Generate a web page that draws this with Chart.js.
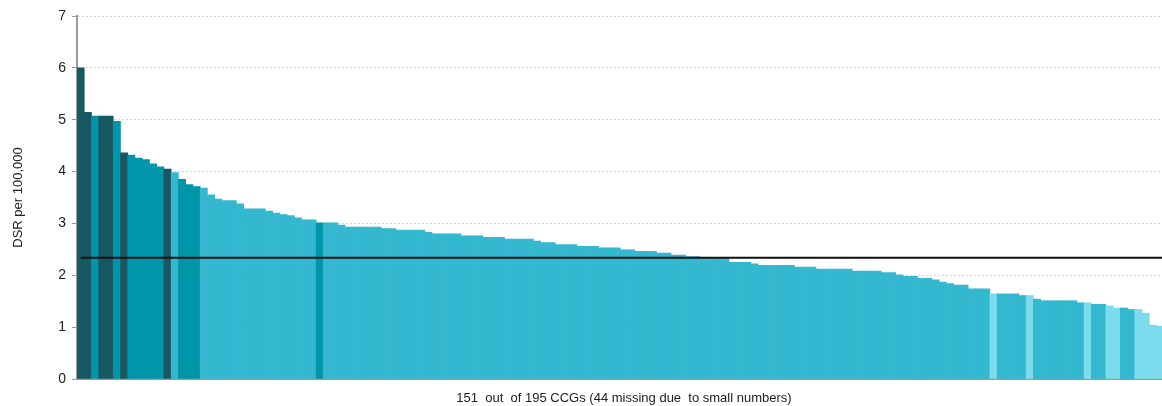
<!DOCTYPE html>
<html>
<head>
<meta charset="utf-8">
<title>DSR per 100,000 by CCG</title>
<script src="https://cdn.jsdelivr.net/npm/chart.js@4.4.1/dist/chart.umd.min.js"></script>
<style>
  html, body { margin: 0; padding: 0; background: #fff; overflow: hidden; }
  #wrap { width: 1171px; height: 406px; }
</style>
</head>
<body>
<div id="wrap"><canvas id="ccgChart" width="1171" height="406"></canvas></div>
<script>
// DSR per 100,000 for each CCG, sorted high to low
const dsrValues = [
  6.00, 5.14, 5.07, 5.07, 5.07, 4.97, 4.36, 4.32, 4.26, 4.23,
  4.15, 4.09, 4.05, 3.98, 3.85, 3.75, 3.71, 3.68, 3.55, 3.47,
  3.44, 3.44, 3.38, 3.28, 3.28, 3.28, 3.24, 3.20, 3.17, 3.15,
  3.11, 3.07, 3.07, 3.01, 3.01, 3.01, 2.97, 2.93, 2.93, 2.93,
  2.93, 2.93, 2.90, 2.90, 2.87, 2.87, 2.87, 2.87, 2.83, 2.80,
  2.80, 2.80, 2.80, 2.76, 2.76, 2.76, 2.73, 2.73, 2.73, 2.70,
  2.70, 2.70, 2.70, 2.66, 2.63, 2.63, 2.59, 2.59, 2.59, 2.56,
  2.56, 2.56, 2.53, 2.53, 2.53, 2.49, 2.49, 2.46, 2.46, 2.46,
  2.43, 2.43, 2.39, 2.39, 2.36, 2.36, 2.32, 2.32, 2.32, 2.32,
  2.25, 2.25, 2.25, 2.22, 2.19, 2.19, 2.19, 2.19, 2.19, 2.16,
  2.16, 2.16, 2.12, 2.12, 2.12, 2.12, 2.12, 2.08, 2.08, 2.08,
  2.08, 2.05, 2.05, 2.01, 1.98, 1.98, 1.94, 1.94, 1.91, 1.87,
  1.84, 1.81, 1.81, 1.74, 1.74, 1.74, 1.64, 1.64, 1.64, 1.64,
  1.61, 1.61, 1.54, 1.51, 1.51, 1.51, 1.51, 1.51, 1.47, 1.47,
  1.44, 1.44, 1.41, 1.37, 1.37, 1.34, 1.34, 1.27, 1.04, 1.02,
  1.00
];

// significance band of each CCG: D = dark, M = mid, L = light, V = very light
const dsrBands = [
  'D','D','M','D','D','M','D','M','M','M',
  'M','M','D','L','M','M','M','L','L','L',
  'L','L','L','L','L','L','L','L','L','L',
  'L','L','L','M','L','L','L','L','L','L',
  'L','L','L','L','L','L','L','L','L','L',
  'L','L','L','L','L','L','L','L','L','L',
  'L','L','L','L','L','L','L','L','L','L',
  'L','L','L','L','L','L','L','L','L','L',
  'L','L','L','L','L','L','L','L','L','L',
  'L','L','L','L','L','L','L','L','L','L',
  'L','L','L','L','L','L','L','L','L','L',
  'L','L','L','L','L','L','L','L','L','L',
  'L','L','L','L','L','L','V','L','L','L',
  'L','V','L','L','L','L','L','L','L','V',
  'L','L','V','V','L','L','V','V','V','V',
  'V'
];

const englandAverage = 2.34;
const yTitle = 'DSR per 100,000';
const xTitle = '151  out  of 195 CCGs (44 missing due  to small numbers)';

const bandColours = {
    D: '#175862',
    M: '#0095a8',
    L: '#33b8d0',
    V: '#7cdcee'
};

const ccgLabels = dsrValues.map((v, i) => 'CCG ' + (i + 1));
const axisFont = { family: 'Liberation Sans, Arial, sans-serif', size: 13 };

const ctx = document.getElementById('ccgChart').getContext('2d');
new Chart(ctx, {
    type: 'bar',
    data: {
        labels: ccgLabels,
        datasets: [
            {
                type: 'line',
                label: 'England',
                data: ccgLabels.map(() => englandAverage),
                borderColor: '#111111',
                borderWidth: 2,
                pointRadius: 0,
                fill: false,
                order: 0
            },
            {
                label: yTitle,
                data: dsrValues,
                backgroundColor: dsrBands.map(b => bandColours[b]),
                borderWidth: 0,
                barPercentage: 1,
                categoryPercentage: 1,
                order: 1
            }
        ]
    },
    options: {
        responsive: false,
        animation: false,
        layout: { padding: { top: 16, left: 0, right: 0, bottom: 0 } },
        plugins: {
            legend: { display: false },
            tooltip: { enabled: false }
        },
        scales: {
            x: {
                grid: { display: false, drawTicks: false },
                ticks: { display: false },
                border: { color: '#9a9a9a', width: 2 },
                title: {
                    display: true,
                    text: xTitle,
                    color: '#222',
                    font: axisFont,
                    padding: { top: 0, bottom: 0 }
                },
                afterFit: scale => { scale.height = 27; }
            },
            y: {
                min: 0,
                max: 7,
                ticks: { stepSize: 1, padding: 6, color: '#222', font: { family: axisFont.family, size: 14 } },
                grid: { color: '#d6d6d6', tickColor: '#9a9a9a', tickLength: 5, tickBorderDash: [] },
                border: { color: '#9a9a9a', width: 2, dash: [2, 2] },
                title: {
                    display: true,
                    text: yTitle,
                    color: '#222',
                    font: axisFont,
                    padding: { top: 11, bottom: 0 }
                },
                afterFit: scale => { scale.width = 77; }
            }
        }
    }
});
</script>
</body>
</html>
